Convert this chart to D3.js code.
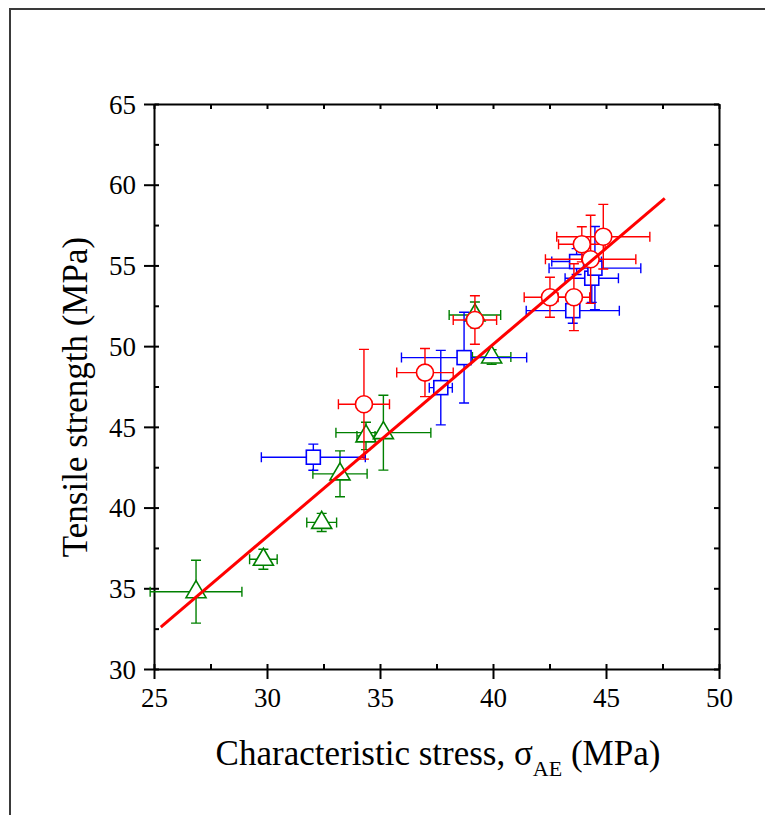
<!DOCTYPE html>
<html>
<head>
<meta charset="utf-8">
<script src="https://cdn.jsdelivr.net/npm/d3@7"></script>
<style>
html,body{margin:0;padding:0;background:#fff;}
svg{display:block;}
</style>
</head>
<body>
<svg id="chart" width="765" height="815" font-family="Liberation Serif"></svg>
<script>
// ---- data ----
const xTicks = [25, 30, 35, 40, 45, 50];
const yTicks = [30, 35, 40, 45, 50, 55, 60, 65];

const circleX    = [34.29, 36.99, 39.20, 43.93, 44.88, 44.32, 42.52, 43.58];
const circleY    = [46.40, 48.36, 51.62, 56.31, 56.78, 55.38, 53.03, 53.03];
const circleXErr = [1.13, 1.25, 0.96, 1.03, 2.06, 2.00, 1.14, 0.70];
const circleYErr = [3.40, 1.49, 1.50, 1.09, 2.00, 2.73, 1.24, 2.07];

const squareX    = [32.05, 37.69, 38.72, 43.70, 44.37, 44.51, 43.53];
const squareY    = [43.12, 47.43, 49.29, 55.24, 54.21, 54.83, 52.20];
const squareXErr = [2.30, 0.51, 2.77, 1.10, 1.18, 2.03, 2.06];
const squareYErr = [0.81, 2.31, 2.81, 0.80, 1.50, 2.58, 0.78];

const triX    = [26.86, 29.84, 32.42, 33.23, 34.38, 35.15, 39.94, 39.20];
const triY    = [34.79, 36.80, 39.08, 42.09, 44.44, 44.64, 49.33, 51.93];
const triXErr = [2.03, 0.61, 0.66, 1.20, 0.40, 2.10, 0.85, 1.14];
const triYErr = [1.95, 0.62, 0.56, 1.42, 0.85, 2.32, 0.45, 0.80];

const fitX = [25.3, 47.6];
const fitY = [32.6, 59.15];

// ---- layout ----
const FONT = "'Liberation Serif', 'Times New Roman', Times, serif";
const svg = d3.select("#chart");
const L = 154, R = 719, T = 104, B = 669;
const x = d3.scaleLinear().domain([25, 50]).range([L, R]);
const y = d3.scaleLinear().domain([30, 65]).range([B, T]);

// outer frame
svg.append("rect").attr("x", 10).attr("y", 9).attr("width", 820).attr("height", 900)
  .attr("fill", "none").attr("stroke", "#3a3a3a").attr("stroke-width", 2);

const minorX = d3.range(25, 50.01, 2.5);
const minorY = d3.range(30, 65.01, 2.5);

// bottom axis: minor ticks inward, major outward
const gB = svg.append("g").attr("transform", `translate(0,${B})`)
  .call(d3.axisTop(x).tickValues(minorX).tickSize(5).tickSizeOuter(0).tickFormat(""));
gB.selectAll(".domain").remove();
const gB2 = svg.append("g").attr("transform", `translate(0,${B})`)
  .call(d3.axisBottom(x).tickValues(xTicks).tickSize(10).tickSizeOuter(0).tickPadding(9).tickFormat(d3.format("d")));
// left axis
const gL = svg.append("g").attr("transform", `translate(${L},0)`)
  .call(d3.axisRight(y).tickValues(minorY).tickSize(5).tickSizeOuter(0).tickFormat(""));
gL.selectAll(".domain").remove();
const gL2 = svg.append("g").attr("transform", `translate(${L},0)`)
  .call(d3.axisLeft(y).tickValues(yTicks).tickSize(10).tickSizeOuter(0).tickPadding(8).tickFormat(d3.format("d")));
// top axis (inward ticks)
const gT = svg.append("g").attr("transform", `translate(0,${T})`)
  .call(d3.axisBottom(x).tickValues(minorX).tickSize(5).tickSizeOuter(0).tickFormat(""));
// right axis (inward ticks)
const gR = svg.append("g").attr("transform", `translate(${R},0)`)
  .call(d3.axisLeft(y).tickValues(minorY).tickSize(5).tickSizeOuter(0).tickFormat(""));

[gB, gB2, gL, gL2, gT, gR].forEach(g => {
  g.attr("font-family", null);
  g.selectAll("line").attr("stroke", "#000").attr("stroke-width", 2);
  g.selectAll(".domain").attr("stroke", "#000").attr("stroke-width", 2);
  g.selectAll("text").attr("font-size", 27).attr("fill", "#000").style("font-family", FONT);
});
gB2.selectAll("text").attr("dy", "0.71em");
gL2.selectAll("text").attr("dy", "0.34em");

// ---- series drawing ----
const cap = 5;
function drawSeries(xs, ys, xe, ye, color, shape) {
  const g = svg.append("g");
  const idx = d3.range(xs.length);
  const eb = g.append("g").attr("stroke", color).attr("stroke-width", 1.4).attr("fill", "none");
  idx.forEach(i => {
    const cx = x(xs[i]), cy = y(ys[i]);
    const x0 = x(xs[i] - xe[i]), x1 = x(xs[i] + xe[i]);
    const y0 = y(ys[i] - ye[i]), y1 = y(ys[i] + ye[i]);
    const p = d3.path();
    p.moveTo(x0, cy); p.lineTo(x1, cy);
    p.moveTo(x0, cy - cap); p.lineTo(x0, cy + cap);
    p.moveTo(x1, cy - cap); p.lineTo(x1, cy + cap);
    p.moveTo(cx, y0); p.lineTo(cx, y1);
    p.moveTo(cx - cap, y0); p.lineTo(cx + cap, y0);
    p.moveTo(cx - cap, y1); p.lineTo(cx + cap, y1);
    eb.append("path").attr("d", p.toString());
  });
  const mk = g.append("g").attr("stroke", color).attr("stroke-width", 1.6).attr("fill", "#fff");
  idx.forEach(i => {
    const cx = x(xs[i]), cy = y(ys[i]);
    if (shape === "circle") {
      mk.append("circle").attr("cx", cx).attr("cy", cy).attr("r", 8.5);
    } else if (shape === "square") {
      mk.append("rect").attr("x", cx - 7).attr("y", cy - 7).attr("width", 14).attr("height", 14);
    } else {
      mk.append("path").attr("d", `M${cx},${cy - 11}L${cx + 10},${cy + 6}L${cx - 10},${cy + 6}Z`);
    }
  });
}

drawSeries(triX, triY, triXErr, triYErr, "#008000", "triangle");
drawSeries(squareX, squareY, squareXErr, squareYErr, "#0000ff", "square");
drawSeries(circleX, circleY, circleXErr, circleYErr, "#ff0000", "circle");

// fit line
svg.append("line")
  .attr("x1", x(fitX[0])).attr("y1", y(fitY[0]))
  .attr("x2", x(fitX[1])).attr("y2", y(fitY[1]))
  .attr("stroke", "#ff0000").attr("stroke-width", 3);

// ---- axis titles ----
const xt = svg.append("text")
  .attr("x", 438).attr("y", 765).style("font-family", FONT)
  .attr("text-anchor", "middle").attr("font-size", 35).attr("fill", "#000");
xt.append("tspan").text("Characteristic stress, σ");
xt.append("tspan").attr("font-size", 22).attr("dy", 11).text("AE");
xt.append("tspan").attr("dy", -11).text(" (MPa)");

svg.append("text")
  .attr("transform", "translate(87,397) rotate(-90)").style("font-family", FONT)
  .attr("text-anchor", "middle").attr("font-size", 35).attr("fill", "#000")
  .text("Tensile strength (MPa)");
</script>
</body>
</html>
